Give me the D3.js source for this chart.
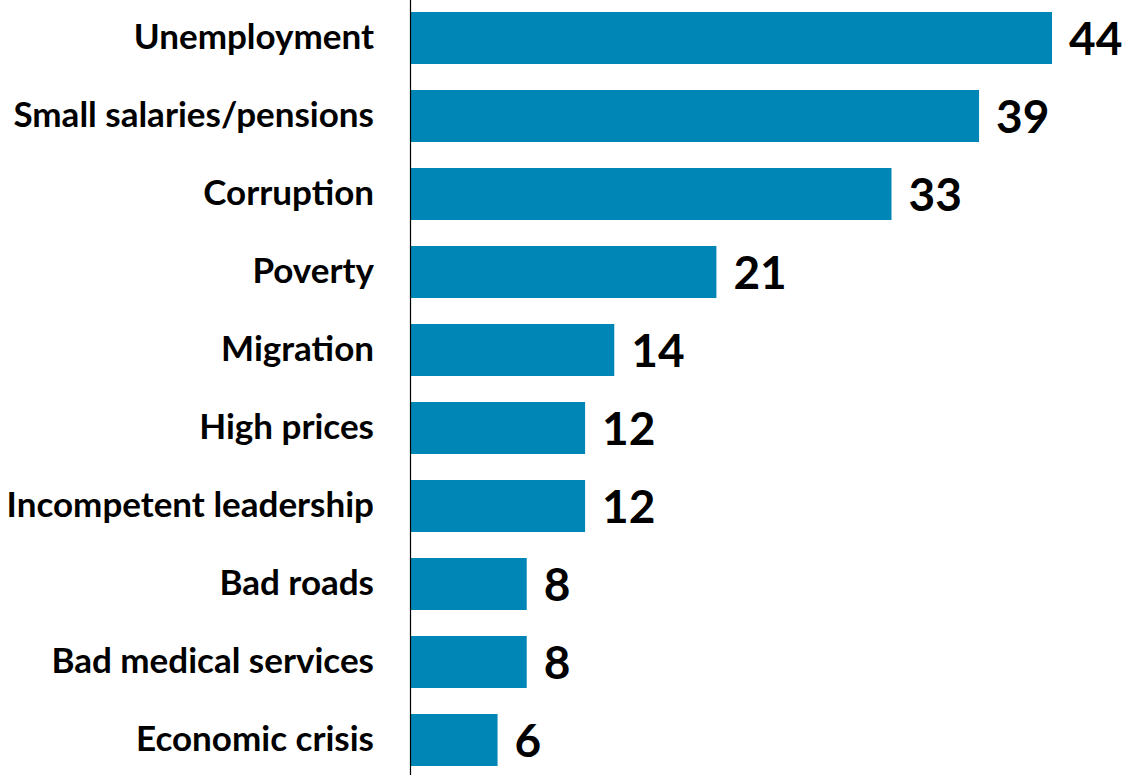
<!DOCTYPE html>
<html>
<head>
<meta charset="utf-8">
<script src="https://cdn.jsdelivr.net/npm/d3@7"></script>
<style>
  html, body { margin: 0; padding: 0; background: #fff; }
  svg { display: block; }
  text { font-family: Lato, "Open Sans", sans-serif; font-weight: 700; fill: #000; }
</style>
</head>
<body>
<svg id="chart" width="1126" height="775"></svg>
<script>
const categories = [
  "Unemployment",
  "Small salaries/pensions",
  "Corruption",
  "Poverty",
  "Migration",
  "High prices",
  "Incompetent leadership",
  "Bad roads",
  "Bad medical services",
  "Economic crisis"
];
const values = [44, 39, 33, 21, 14, 12, 12, 8, 8, 6];

const svg = d3.select("#chart");
const axisX = 410;

const x = d3.scaleLinear().domain([0, 44]).range([axisX, 1052]);
const y = d3.scaleBand().domain(categories).range([-1, 779]).paddingInner(0.333).paddingOuter(0.1665);

const rows = categories.map((c, i) => ({ c, v: values[i] }));

svg.selectAll("rect.bar")
  .data(rows)
  .join("rect")
  .attr("class", "bar")
  .attr("x", x(0) + 1)
  .attr("y", d => y(d.c))
  .attr("width", d => x(d.v) - x(0) - 1)
  .attr("height", y.bandwidth())
  .attr("fill", "#0086b6");

// category axis: a plain vertical line with labels, no tick marks
const yAxis = d3.axisLeft(y).tickSize(0).tickPadding(36);
const g = svg.append("g").attr("transform", `translate(${axisX},0)`).call(yAxis);
g.select(".domain").attr("d", "M0.5,0V775").attr("stroke", "#000").attr("stroke-width", 1.2);
g.selectAll(".tick text")
  .attr("font-size", 35)
  .attr("font-family", "Lato, 'Open Sans', sans-serif")
  .attr("font-weight", 700)
  .attr("fill", "#000");

svg.selectAll("text.val")
  .data(rows)
  .join("text")
  .attr("class", "val")
  .attr("x", d => x(d.v) + 17)
  .attr("y", d => y(d.c) + y.bandwidth() / 2)
  .attr("dy", "0.36em")
  .attr("font-size", 46)
  .text(d => d.v);
</script>
</body>
</html>
